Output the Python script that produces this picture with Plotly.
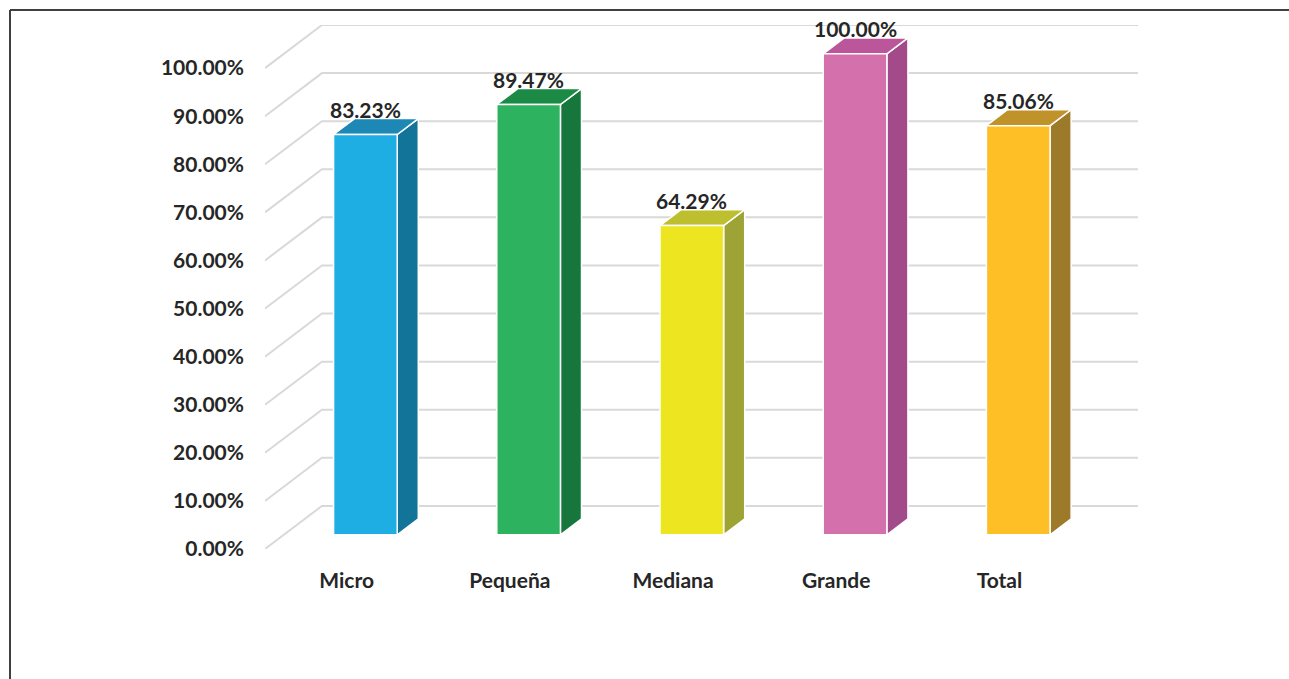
import plotly.graph_objects as go

categorias = ["Micro", "Pequeña", "Mediana", "Grande", "Total"]
porcentajes = [83.23, 89.47, 64.29, 100.00, 85.06]
etiquetas = ["83.23%", "89.47%", "64.29%", "100.00%", "85.06%"]
ticks_y = [0, 10, 20, 30, 40, 50, 60, 70, 80, 90, 100]
ticks_y_texto = ["0.00%", "10.00%", "20.00%", "30.00%", "40.00%", "50.00%",
                 "60.00%", "70.00%", "80.00%", "90.00%", "100.00%"]

colores_frente = ["#1EAEE3", "#2DB35F", "#ECE51F", "#D470AB", "#FDBE26"]
colores_techo = ["#1D87B6", "#1B8A45", "#BDBF2F", "#BB569B", "#C0922A"]
colores_lado = ["#13749A", "#16763B", "#9EA335", "#A34A8A", "#9C7A2A"]

# proyeccion oblicua: profundidad d en [0, 1]
DX = 0.349
DY = 8.96
ANCHO = 0.39
D1, D2 = 0.33, 0.70
FUENTE = "Lato"
TAMANO = 21
GRIS_TEXTO = "#262626"


def proyectar(x, y, d):
    return x + d * DX, y + d * DY


def poligono(puntos):
    puntos = puntos + [puntos[0]]
    return [p[0] for p in puntos], [p[1] for p in puntos]


fig = go.Figure()

# pared del fondo y lateral
n = len(categorias)
for v in ticks_y:
    x0, y0 = proyectar(-0.5, v, 0)
    x1, y1 = proyectar(-0.5, v, 1)
    x2, y2 = proyectar(n - 0.5, v, 1)
    fig.add_trace(go.Scatter(
        x=[x0, x1, x2], y=[y0, y1, y2], mode="lines",
        line=dict(color="#D9D9D9", width=2), hoverinfo="skip"
    ))

# barras 3D
for i, val in enumerate(porcentajes):
    xl, xr = i - ANCHO / 2, i + ANCHO / 2
    lado = [proyectar(xr, 0, D1), proyectar(xr, 0, D2), proyectar(xr, val, D2), proyectar(xr, val, D1)]
    techo = [proyectar(xl, val, D1), proyectar(xr, val, D1), proyectar(xr, val, D2), proyectar(xl, val, D2)]
    frente = [proyectar(xl, 0, D1), proyectar(xr, 0, D1), proyectar(xr, val, D1), proyectar(xl, val, D1)]
    for caras, color in ((lado, colores_lado[i]), (techo, colores_techo[i]), (frente, colores_frente[i])):
        xs, ys = poligono(caras)
        fig.add_trace(go.Scatter(
            x=xs, y=ys, mode="lines", fill="toself", fillcolor=color,
            line=dict(color="white", width=1.5), hoverinfo="skip"
        ))
    fig.add_annotation(
        x=i + D1 * DX, y=val + D2 * DY, text=etiquetas[i], showarrow=False,
        yanchor="middle", yshift=9,
        font=dict(family=FUENTE, size=TAMANO, color=GRIS_TEXTO, weight="bold")
    )

# borde del area del grafico (pixeles -> paper)
def px_x(p):
    return (p - 265) / 873


def px_y(p):
    return (549 - p) / 524


fig.add_shape(type="line", xref="paper", yref="paper", x0=px_x(10), x1=px_x(1400),
              y0=px_y(10), y1=px_y(10), line=dict(color="#404040", width=2))
fig.add_shape(type="line", xref="paper", yref="paper", x0=px_x(10), x1=px_x(10),
              y0=px_y(10), y1=px_y(800), line=dict(color="#404040", width=2))

fig.update_layout(
    width=1289, height=679,
    margin=dict(l=265, r=151, t=25, b=130),
    paper_bgcolor="white", plot_bgcolor="white",
    showlegend=False,
    xaxis=dict(
        range=[-0.5, n - 0.5 + DX], tickvals=list(range(n)), ticktext=categorias,
        showgrid=False, zeroline=False, showline=False, ticks="",
        ticklabelstandoff=17,
        tickfont=dict(family=FUENTE, size=TAMANO, color=GRIS_TEXTO, weight="bold"),
    ),
    yaxis=dict(
        range=[0, 100 + DY], tickvals=ticks_y, ticktext=ticks_y_texto,
        showgrid=False, zeroline=False, showline=False, ticks="",
        ticklabelstandoff=20,
        tickfont=dict(family=FUENTE, size=TAMANO, color=GRIS_TEXTO, weight="bold"),
    ),
)

fig.write_html("out.html", config={"displayModeBar": False},
               post_script="document.body.style.margin='0';")
